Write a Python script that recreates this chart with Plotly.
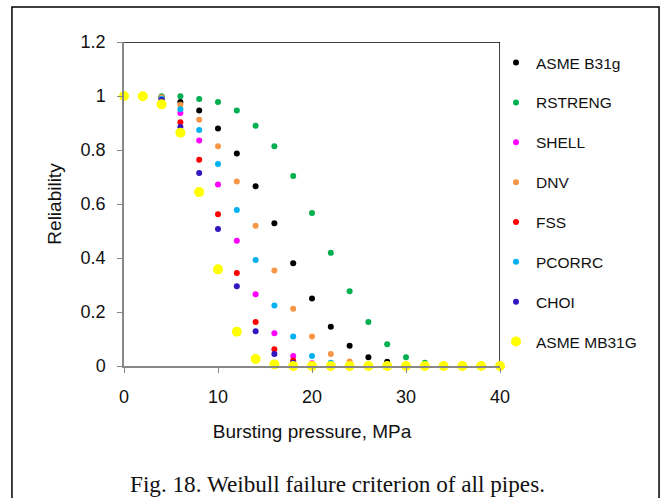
import plotly.graph_objects as go

pressure = list(range(0, 42, 2))  # 0..40 MPa

asme_b31g = [1.0, 0.999, 0.995, 0.978, 0.946, 0.880, 0.787, 0.666, 0.529, 0.381, 0.250,
             0.145, 0.075, 0.032, 0.016, 0.005, 0.001, 0.0, 0.0, 0.0, 0.0]
rstreng = [1.0, 1.0, 0.999, 0.999, 0.989, 0.978, 0.946, 0.890, 0.814, 0.704, 0.567,
           0.419, 0.277, 0.163, 0.081, 0.032, 0.012, 0.004, 0.001, 0.0, 0.0]
shell = [1.0, 0.998, 0.990, 0.937, 0.835, 0.672, 0.464, 0.266, 0.121, 0.037, 0.010,
         0.002, 0.0, 0.0, 0.0, 0.0, 0.0, 0.0, 0.0, 0.0, 0.0]
dnv = [1.0, 0.999, 0.995, 0.968, 0.912, 0.814, 0.683, 0.519, 0.354, 0.212, 0.109,
       0.044, 0.017, 0.005, 0.001, 0.0, 0.0, 0.0, 0.0, 0.0, 0.0]
fss = [1.0, 0.998, 0.988, 0.903, 0.764, 0.562, 0.344, 0.163, 0.062, 0.020, 0.004,
       0.001, 0.0, 0.0, 0.0, 0.0, 0.0, 0.0, 0.0, 0.0, 0.0]
pcorrc = [1.0, 0.999, 0.990, 0.951, 0.874, 0.748, 0.578, 0.393, 0.224, 0.109, 0.037,
          0.012, 0.003, 0.0, 0.0, 0.0, 0.0, 0.0, 0.0, 0.0, 0.0]
choi = [1.0, 0.998, 0.985, 0.885, 0.715, 0.507, 0.295, 0.129, 0.044, 0.012, 0.002,
        0.0, 0.0, 0.0, 0.0, 0.0, 0.0, 0.0, 0.0, 0.0, 0.0]
asme_mb31g = [1.0, 0.999, 0.969, 0.864, 0.644, 0.358, 0.127, 0.026, 0.006, 0.0, 0.0,
              0.0, 0.0, 0.0, 0.0, 0.0, 0.0, 0.0, 0.0, 0.0, 0.0]

series_names = ["ASME B31g", "RSTRENG", "SHELL", "DNV", "FSS", "PCORRC", "CHOI", "ASME MB31G"]
series_values = [asme_b31g, rstreng, shell, dnv, fss, pcorrc, choi, asme_mb31g]
series_colors = ["#000000", "#00B050", "#FF00FF", "#F79646", "#FF0000", "#00B0F0", "#3216C0", "#FFFF00"]
series_sizes = [6, 6, 6, 6, 6, 6, 6, 10]

x_ticks = [0, 10, 20, 30, 40]
y_ticks = [0, 0.2, 0.4, 0.6, 0.8, 1.0, 1.2]
y_ticklabels = ["0", "0.2", "0.4", "0.6", "0.8", "1", "1.2"]

fig = go.Figure()
for name, vals, col, sz in zip(series_names, series_values, series_colors, series_sizes):
    fig.add_trace(go.Scatter(
        x=pressure, y=vals, mode="markers", name=name, legendgroup=name,
        marker=dict(color=col, size=sz, line=dict(width=0)),
        cliponaxis=False,
    ))

axis_font = dict(family="Liberation Sans, Arial, sans-serif", size=18, color="#111111")

fig.update_layout(
    width=665, height=498,
    margin=dict(l=124, r=165, t=42, b=132),
    paper_bgcolor="white", plot_bgcolor="white",
    showlegend=True,
    legend=dict(
        x=1.0 - 4 / 376, xanchor="left", y=1.0 - 4 / 324, yanchor="top",
        font=dict(family="Liberation Sans, Arial, sans-serif", size=15.5, color="#111111"),
        tracegroupgap=16.7, itemwidth=30, bgcolor="rgba(0,0,0,0)", maxheight=1,
    ),
    xaxis=dict(
        range=[0, 40], tickvals=x_ticks, ticktext=[str(v) for v in x_ticks],
        showgrid=False, zeroline=False, showline=True, linecolor="#888888", linewidth=1.5,
        ticks="outside", ticklen=5, tickcolor="#888888", tickfont=axis_font,
        ticklabelstandoff=9,
        title=dict(text="Bursting pressure, MPa", font=dict(family="Liberation Sans, Arial, sans-serif", size=19, color="#111111"), standoff=18),
    ),
    yaxis=dict(
        range=[0, 1.2], tickvals=y_ticks, ticktext=y_ticklabels,
        showgrid=False, zeroline=False, showline=True, linecolor="#888888", linewidth=1.5,
        ticks="outside", ticklen=5, tickcolor="#888888", tickfont=axis_font,
        ticklabelstandoff=8,
        title=dict(text="Reliability", font=dict(family="Liberation Sans, Arial, sans-serif", size=19, color="#111111"), standoff=14),
    ),
    shapes=[
        dict(type="line", xref="x", yref="y", x0=0, x1=40, y0=1.2, y1=1.2, line=dict(color="#000000", width=1.5), layer="below"),
        dict(type="line", xref="x", yref="y", x0=40, x1=40, y0=0, y1=1.2, line=dict(color="#000000", width=1.5), layer="below"),
        dict(type="rect", xref="paper", yref="paper", x0=-0.298, x1=1.423, y0=-0.6, y1=1.108,
             line=dict(color="#000000", width=1.5)),
    ],
    annotations=[
        dict(text="Fig. 18. Weibull failure criterion of all pipes.", xref="paper", yref="paper",
             x=0.569, y=-0.364, xanchor="center", yanchor="middle", showarrow=False,
             font=dict(family="Liberation Serif, Times New Roman, serif", size=23.2, color="#111111")),
    ],
)

fig.write_html("out.html")
